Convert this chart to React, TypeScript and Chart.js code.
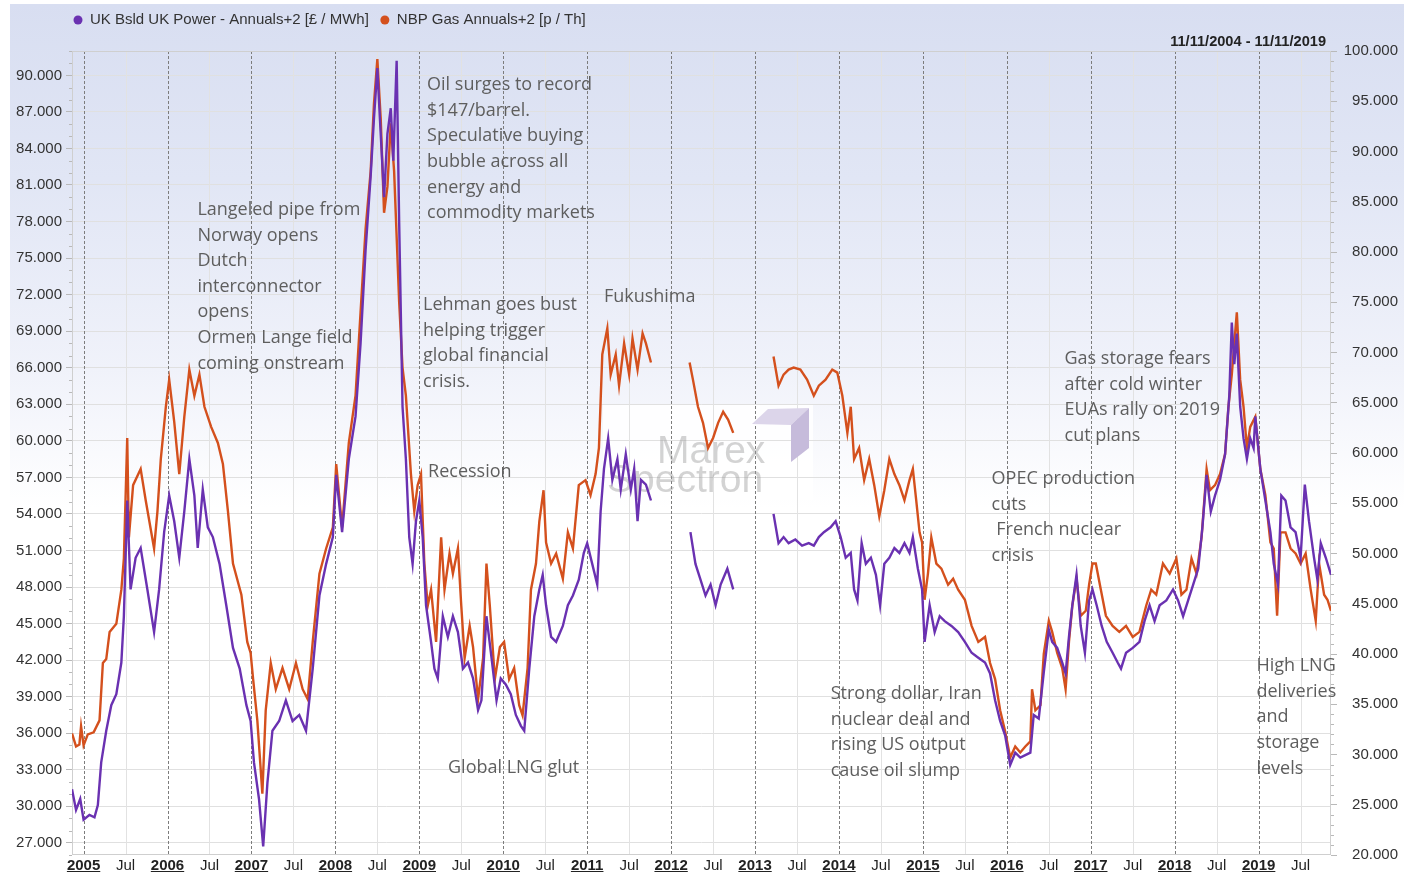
import React, { useEffect, useRef } from 'react';
import { Chart, registerables } from 'chart.js';

Chart.register(...registerables);

// ---------- DATA (decimal year, value) ----------
// UK Baseload Power Annuals+2 [£ / MWh] -> left axis
const powerSeries: [number, number | null][] = [
  [2004.862, 31.4], [2004.91, 29.7], [2004.96, 30.6], [2005.0, 28.9], [2005.07, 29.3], [2005.13, 29.1],
  [2005.17, 30.1], [2005.21, 33.6], [2005.27, 36.2], [2005.33, 38.3], [2005.39, 39.2], [2005.45, 41.8],
  [2005.48, 45.6], [2005.52, 55.1], [2005.56, 47.8], [2005.62, 50.4], [2005.68, 51.2], [2005.76, 47.8],
  [2005.84, 44.3], [2005.9, 47.8], [2005.96, 52.5], [2006.02, 55.5], [2006.08, 53.4], [2006.14, 50.4],
  [2006.2, 54.2], [2006.26, 58.5], [2006.32, 55.5], [2006.36, 51.2], [2006.42, 56.0], [2006.48, 52.9],
  [2006.54, 52.1], [2006.62, 49.9], [2006.7, 46.5], [2006.78, 43.0], [2006.86, 41.3], [2006.94, 38.3],
  [2006.99, 37.0], [2007.03, 33.6], [2007.09, 30.6], [2007.14, 26.7], [2007.19, 31.9], [2007.25, 36.2],
  [2007.33, 37.0], [2007.41, 38.7], [2007.49, 37.0], [2007.57, 37.5], [2007.65, 36.2], [2007.73, 41.3],
  [2007.81, 47.3], [2007.89, 49.9], [2007.97, 52.1], [2008.01, 57.2], [2008.08, 52.5], [2008.16, 58.5],
  [2008.24, 62.0], [2008.3, 68.0], [2008.36, 75.7], [2008.42, 81.7], [2008.46, 86.5], [2008.5, 90.6],
  [2008.53, 86.5], [2008.58, 80.0], [2008.62, 85.2], [2008.66, 87.3], [2008.69, 83.0], [2008.73, 91.2],
  [2008.76, 77.9], [2008.8, 62.8], [2008.84, 58.5], [2008.88, 52.1], [2008.92, 49.9], [2008.96, 53.4],
  [2009.0, 55.1], [2009.04, 52.1], [2009.08, 46.5], [2009.14, 43.5], [2009.18, 41.3], [2009.22, 40.5],
  [2009.28, 45.6], [2009.34, 43.9], [2009.4, 45.6], [2009.46, 44.3], [2009.52, 41.3], [2009.58, 41.8],
  [2009.64, 40.5], [2009.7, 37.9], [2009.74, 38.7], [2009.8, 45.6], [2009.86, 42.2], [2009.92, 38.7],
  [2009.97, 40.5], [2010.03, 40.0], [2010.09, 39.2], [2010.15, 37.5], [2010.21, 36.6], [2010.25, 36.2],
  [2010.31, 41.3], [2010.37, 45.6], [2010.43, 47.8], [2010.47, 49.0], [2010.51, 46.5], [2010.57, 43.9],
  [2010.63, 43.5], [2010.71, 44.8], [2010.77, 46.5], [2010.83, 47.3], [2010.9, 48.6], [2010.96, 50.8],
  [2011.0, 51.6], [2011.06, 49.9], [2011.12, 48.2], [2011.16, 54.2], [2011.2, 57.7], [2011.25, 60.2],
  [2011.3, 56.8], [2011.36, 58.5], [2011.4, 56.0], [2011.46, 58.9], [2011.52, 56.0], [2011.56, 57.7],
  [2011.6, 53.4], [2011.64, 56.8], [2011.7, 56.4], [2011.76, 55.1], [2012.0, null],
  [2012.23, 52.5], [2012.29, 49.9], [2012.35, 48.6], [2012.41, 47.3], [2012.47, 48.2], [2012.53, 46.5],
  [2012.59, 48.2], [2012.67, 49.5], [2012.74, 47.8], [2013.0, null],
  [2013.22, 54.0], [2013.28, 51.6], [2013.34, 52.1], [2013.4, 51.6], [2013.48, 51.9], [2013.56, 51.4],
  [2013.64, 51.6], [2013.7, 51.4], [2013.76, 52.1], [2013.82, 52.5], [2013.9, 52.9], [2013.96, 53.4],
  [2014.02, 52.1], [2014.08, 50.4], [2014.14, 50.8], [2014.18, 47.8], [2014.22, 46.9], [2014.27, 51.6],
  [2014.32, 49.9], [2014.38, 50.4], [2014.44, 49.0], [2014.49, 46.5], [2014.54, 49.9], [2014.6, 50.4],
  [2014.66, 51.2], [2014.72, 50.8], [2014.78, 51.6], [2014.84, 50.8], [2014.88, 52.1], [2014.94, 49.5],
  [2014.99, 47.8], [2015.02, 43.5], [2015.08, 46.5], [2015.14, 44.3], [2015.2, 45.6], [2015.26, 45.2],
  [2015.34, 44.8], [2015.42, 44.3], [2015.5, 43.5], [2015.58, 42.6], [2015.66, 42.2], [2015.74, 41.8],
  [2015.8, 40.9], [2015.86, 38.7], [2015.92, 37.0], [2015.98, 35.8], [2016.04, 33.4], [2016.1, 34.4],
  [2016.16, 34.0], [2016.22, 34.2], [2016.28, 34.4], [2016.32, 37.5], [2016.38, 37.2], [2016.44, 41.0],
  [2016.5, 44.5], [2016.54, 43.5], [2016.6, 43.0], [2016.66, 41.8], [2016.7, 40.9], [2016.74, 43.9],
  [2016.78, 46.5], [2016.83, 49.0], [2016.88, 44.8], [2016.93, 42.6], [2016.98, 46.9], [2017.02, 47.8],
  [2017.07, 46.5], [2017.13, 44.8], [2017.19, 43.5], [2017.26, 42.6], [2017.32, 41.8], [2017.36, 41.3],
  [2017.42, 42.6], [2017.5, 43.0], [2017.58, 43.5], [2017.64, 45.2], [2017.7, 46.5], [2017.76, 45.2],
  [2017.82, 46.5], [2017.9, 46.9], [2017.98, 47.8], [2018.04, 46.9], [2018.1, 45.6], [2018.16, 46.9],
  [2018.22, 48.2], [2018.28, 49.5], [2018.33, 52.9], [2018.38, 57.2], [2018.43, 54.2], [2018.48, 55.5],
  [2018.54, 56.8], [2018.6, 58.9], [2018.65, 63.7], [2018.68, 69.7], [2018.71, 66.3], [2018.74, 68.8],
  [2018.78, 62.8], [2018.82, 60.2], [2018.86, 58.5], [2018.9, 60.2], [2018.94, 59.4], [2018.96, 62.0],
  [2019.02, 57.7], [2019.08, 55.1], [2019.14, 52.5], [2019.18, 49.9], [2019.23, 48.2], [2019.27, 55.5],
  [2019.32, 55.1], [2019.38, 52.9], [2019.44, 52.5], [2019.5, 50.4], [2019.55, 56.4], [2019.6, 53.4],
  [2019.66, 50.4], [2019.7, 48.6], [2019.74, 51.6], [2019.8, 50.4], [2019.862, 49.0],
];

// NBP Gas Annuals+2 [p / Th] -> right axis
const gasSeries: [number, number | null][] = [
  [2004.862, 32.1], [2004.91, 30.8], [2004.95, 31.0], [2004.97, 32.8], [2005.0, 30.9], [2005.05, 32.0],
  [2005.12, 32.2], [2005.19, 33.4], [2005.23, 39.1], [2005.27, 39.5], [2005.31, 42.2], [2005.39, 43.0],
  [2005.45, 46.4], [2005.48, 49.5], [2005.52, 61.5], [2005.54, 51.6], [2005.59, 56.8], [2005.68, 58.4],
  [2005.74, 55.3], [2005.84, 50.5], [2005.88, 54.2], [2005.92, 59.4], [2005.98, 64.6], [2006.02, 67.3],
  [2006.08, 63.1], [2006.14, 57.9], [2006.2, 63.6], [2006.26, 68.3], [2006.32, 65.7], [2006.38, 67.8],
  [2006.44, 64.6], [2006.52, 62.6], [2006.6, 61.0], [2006.66, 58.9], [2006.72, 54.2], [2006.78, 49.0],
  [2006.88, 45.9], [2006.95, 41.2], [2006.99, 40.1], [2007.02, 37.5], [2007.07, 33.4], [2007.13, 26.1],
  [2007.17, 34.4], [2007.23, 39.1], [2007.29, 36.5], [2007.37, 38.6], [2007.45, 36.5], [2007.53, 39.1],
  [2007.61, 36.5], [2007.67, 35.5], [2007.73, 41.2], [2007.81, 48.0], [2007.89, 50.5], [2007.97, 52.6],
  [2008.01, 58.9], [2008.08, 52.6], [2008.16, 61.0], [2008.24, 65.7], [2008.3, 74.0], [2008.36, 82.3],
  [2008.42, 88.0], [2008.46, 94.8], [2008.5, 99.2], [2008.54, 93.3], [2008.58, 83.9], [2008.62, 86.5],
  [2008.66, 92.8], [2008.7, 88.0], [2008.76, 75.0], [2008.8, 68.5], [2008.84, 65.7], [2008.9, 57.9],
  [2008.94, 54.2], [2008.98, 56.8], [2009.02, 57.9], [2009.06, 49.0], [2009.1, 44.8], [2009.14, 46.4],
  [2009.2, 41.2], [2009.26, 51.6], [2009.3, 46.4], [2009.36, 50.0], [2009.4, 48.0], [2009.46, 50.5],
  [2009.5, 44.8], [2009.54, 39.6], [2009.6, 42.8], [2009.64, 40.7], [2009.7, 35.5], [2009.76, 39.6],
  [2009.8, 49.0], [2009.84, 44.8], [2009.9, 37.5], [2009.96, 40.7], [2010.01, 41.2], [2010.07, 37.5],
  [2010.13, 38.6], [2010.19, 34.9], [2010.23, 33.9], [2010.29, 38.6], [2010.33, 46.4], [2010.39, 49.0],
  [2010.43, 53.2], [2010.48, 56.3], [2010.51, 51.1], [2010.57, 49.0], [2010.63, 50.0], [2010.71, 47.5],
  [2010.77, 52.1], [2010.83, 50.5], [2010.9, 56.8], [2010.98, 57.3], [2011.04, 55.8], [2011.1, 57.9],
  [2011.14, 60.5], [2011.18, 69.8], [2011.24, 72.4], [2011.28, 67.8], [2011.34, 69.8], [2011.38, 66.7],
  [2011.44, 70.9], [2011.5, 67.8], [2011.54, 71.4], [2011.6, 68.3], [2011.66, 71.9], [2011.7, 70.9],
  [2011.76, 69.0], [2012.0, null],
  [2012.22, 69.0], [2012.26, 67.3], [2012.32, 64.6], [2012.38, 63.0], [2012.44, 60.5], [2012.5, 61.5],
  [2012.56, 63.0], [2012.62, 64.1], [2012.68, 63.3], [2012.74, 62.0], [2013.0, null],
  [2013.22, 69.6], [2013.28, 66.7], [2013.34, 67.8], [2013.4, 68.3], [2013.46, 68.5], [2013.54, 68.3],
  [2013.62, 67.3], [2013.7, 65.7], [2013.76, 66.7], [2013.84, 67.3], [2013.92, 68.3], [2013.98, 68.0],
  [2014.04, 65.7], [2014.1, 62.0], [2014.14, 64.6], [2014.18, 59.4], [2014.24, 60.5], [2014.3, 57.3],
  [2014.36, 59.4], [2014.42, 56.8], [2014.48, 53.7], [2014.54, 56.3], [2014.6, 59.4], [2014.66, 57.9],
  [2014.72, 56.8], [2014.78, 55.3], [2014.84, 57.3], [2014.88, 58.4], [2014.92, 55.3], [2014.96, 52.1],
  [2014.99, 51.1], [2015.02, 45.4], [2015.06, 48.0], [2015.1, 51.6], [2015.16, 49.0], [2015.22, 48.5],
  [2015.3, 46.9], [2015.36, 47.5], [2015.42, 46.4], [2015.5, 45.4], [2015.58, 42.8], [2015.66, 41.2],
  [2015.74, 41.7], [2015.8, 39.1], [2015.86, 37.5], [2015.92, 34.4], [2015.98, 32.3], [2016.04, 29.7],
  [2016.1, 30.8], [2016.16, 30.2], [2016.22, 30.8], [2016.28, 31.3], [2016.3, 36.5], [2016.34, 34.4],
  [2016.4, 34.9], [2016.44, 40.0], [2016.5, 43.3], [2016.54, 42.2], [2016.6, 40.1], [2016.66, 38.6],
  [2016.7, 36.5], [2016.74, 41.2], [2016.78, 44.8], [2016.83, 47.5], [2016.88, 43.8], [2016.94, 44.3],
  [2016.98, 46.9], [2017.02, 49.0], [2017.06, 49.0], [2017.12, 46.4], [2017.18, 43.8], [2017.26, 42.8],
  [2017.34, 42.2], [2017.42, 42.8], [2017.5, 41.7], [2017.58, 42.2], [2017.66, 44.8], [2017.72, 46.4],
  [2017.78, 45.9], [2017.86, 49.0], [2017.94, 48.0], [2018.02, 49.5], [2018.08, 45.9], [2018.14, 46.4],
  [2018.2, 49.5], [2018.26, 48.0], [2018.32, 51.6], [2018.38, 58.4], [2018.42, 56.3], [2018.48, 56.8],
  [2018.54, 57.9], [2018.6, 59.9], [2018.64, 64.6], [2018.68, 67.8], [2018.71, 70.9], [2018.74, 74.0],
  [2018.78, 67.3], [2018.82, 64.6], [2018.86, 60.5], [2018.9, 62.6], [2018.96, 63.6], [2019.02, 58.4],
  [2019.08, 55.8], [2019.14, 51.1], [2019.18, 50.5], [2019.22, 43.8], [2019.26, 52.1], [2019.32, 52.1],
  [2019.38, 50.5], [2019.44, 50.0], [2019.5, 49.0], [2019.56, 50.0], [2019.62, 46.4], [2019.68, 43.3],
  [2019.72, 49.0], [2019.78, 45.9], [2019.82, 45.4], [2019.862, 44.3],
];

const seriesLabels = ['UK Bsld UK Power - Annuals+2 [£ / MWh]', 'NBP Gas Annuals+2 [p / Th]'];
const seriesColors = ['#6a31b1', '#d4501d'];
const dateRangeLabel = '11/11/2004 - 11/11/2019';
const startDate = 2004.862;
const endDate = 2019.862;
const yearTicks = [2005, 2006, 2007, 2008, 2009, 2010, 2011, 2012, 2013, 2014, 2015, 2016, 2017, 2018, 2019];
const midYearLabel = 'Jul';
const powerTicks = [27, 30, 33, 36, 39, 42, 45, 48, 51, 54, 57, 60, 63, 66, 69, 72, 75, 78, 81, 84, 87, 90];
const gasTicks = [20, 25, 30, 35, 40, 45, 50, 55, 60, 65, 70, 75, 80, 85, 90, 95, 100];
const powerRange = [26, 92];
const gasRange = [20, 100];

// notes anchored at (date, power-axis value) of their first line
const notes: { date: number; value: number; lines: string[] }[] = [
  { date: 2006.356, value: 78.95, lines: ['Langeled pipe from', 'Norway opens', 'Dutch', 'interconnector', 'opens', 'Ormen Lange field', 'coming onstream'] },
  { date: 2009.092, value: 89.2, lines: ['Oil surges to record', '$147/barrel.', 'Speculative buying', 'bubble across all', 'energy and', 'commodity markets'] },
  { date: 2009.044, value: 71.15, lines: ['Lehman goes bust', 'helping trigger', 'global financial', 'crisis.'] },
  { date: 2009.104, value: 57.44, lines: ['Recession'] },
  { date: 2009.342, value: 33.13, lines: ['Global LNG glut'] },
  { date: 2011.199, value: 71.8, lines: ['Fukushima'] },
  { date: 2013.901, value: 39.21, lines: ['Strong dollar, Iran', 'nuclear deal and', 'rising US output', 'cause oil slump'] },
  { date: 2015.818, value: 56.86, lines: ['OPEC production', 'cuts', ' French nuclear', 'crisis'] },
  { date: 2016.687, value: 66.71, lines: ['Gas storage fears', 'after cold winter', 'EUAs rally on 2019', 'cut plans'] },
  { date: 2018.973, value: 41.51, lines: ['High LNG', 'deliveries', 'and', 'storage', 'levels'] },
];

const SANS = '"Liberation Sans", Arial, Helvetica, sans-serif';
const NOTE_FONT = '18px "Open Sans", "Noto Sans", sans-serif';

const decorPlugin = {
  id: 'decor',
  beforeDraw(chart: any) {
    const { ctx, width, height } = chart;
    ctx.save();
    ctx.fillStyle = '#ffffff';
    ctx.fillRect(0, 0, width, height);
    const g = ctx.createLinearGradient(0, 4, 0, height);
    g.addColorStop(0, '#d8def1');
    g.addColorStop(0.2, '#e1e6f5');
    g.addColorStop(0.42, '#f0f2fa');
    g.addColorStop(0.58, '#ffffff');
    g.addColorStop(1, '#ffffff');
    ctx.fillStyle = g;
    ctx.fillRect(10, 4, width - 10, height - 4);
    // watermark backdrop
    ctx.fillStyle = 'rgba(255,255,255,0.85)';
    ctx.fillRect(603, 405, 210, 95);
    ctx.restore();
  },
  beforeDatasetsDraw(chart: any) {
    const { ctx, chartArea } = chart;
    const xs = chart.scales.x;
    const ys = chart.scales.y;
    const y2 = chart.scales.y2;
    ctx.save();
    // vertical grid: Jul solid light, years dashed dark
    yearTicks.forEach((yr) => {
      const half = xs.getPixelForValue(yr + 0.5);
      if (half < chartArea.right) {
        ctx.strokeStyle = '#e2e2e2';
        ctx.lineWidth = 1;
        ctx.setLineDash([]);
        ctx.beginPath();
        ctx.moveTo(Math.round(half) + 0.5, chartArea.top);
        ctx.lineTo(Math.round(half) + 0.5, chartArea.bottom);
        ctx.stroke();
      }
    });
    yearTicks.forEach((yr) => {
      const px = xs.getPixelForValue(yr);
      ctx.strokeStyle = '#7c7c7c';
      ctx.lineWidth = 1;
      ctx.setLineDash([3, 2]);
      ctx.beginPath();
      ctx.moveTo(Math.round(px) + 0.5, chartArea.top);
      ctx.lineTo(Math.round(px) + 0.5, chartArea.bottom);
      ctx.stroke();
    });
    ctx.setLineDash([]);
    // border
    ctx.strokeStyle = '#cfcfcf';
    ctx.strokeRect(chartArea.left + 0.5, chartArea.top + 0.5, chartArea.width - 1, chartArea.height - 1);
    // minor ticks
    ctx.strokeStyle = '#b9b9b9';
    for (let v = Math.ceil(powerRange[0]); v <= powerRange[1]; v++) {
      if (v % 3 === 0) continue;
      const py = Math.round(ys.getPixelForValue(v)) + 0.5;
      ctx.beginPath();
      ctx.moveTo(chartArea.left - 3, py);
      ctx.lineTo(chartArea.left, py);
      ctx.stroke();
    }
    for (let v = gasRange[0]; v <= gasRange[1]; v++) {
      if (v % 5 === 0) continue;
      const py = Math.round(y2.getPixelForValue(v)) + 0.5;
      ctx.beginPath();
      ctx.moveTo(chartArea.right, py);
      ctx.lineTo(chartArea.right + 3, py);
      ctx.stroke();
    }
    // watermark
    ctx.fillStyle = '#dcd5ea';
    ctx.beginPath();
    ctx.moveTo(752, 424);
    ctx.lineTo(768, 409);
    ctx.lineTo(809, 408);
    ctx.lineTo(791, 425);
    ctx.closePath();
    ctx.fill();
    ctx.fillStyle = '#c6bbdb';
    ctx.beginPath();
    ctx.moveTo(791, 425);
    ctx.lineTo(809, 408);
    ctx.lineTo(809, 448);
    ctx.lineTo(791, 462);
    ctx.closePath();
    ctx.fill();
    ctx.fillStyle = 'rgba(150,150,150,0.42)';
    ctx.font = '39px ' + SANS;
    ctx.textAlign = 'left';
    ctx.textBaseline = 'alphabetic';
    ctx.fillText('Marex', 657, 463);
    ctx.fillText('Spectron', 607, 492);
    ctx.restore();
  },
  afterDraw(chart: any) {
    const { ctx, chartArea } = chart;
    const xs = chart.scales.x;
    const ys = chart.scales.y;
    ctx.save();
    // notes
    ctx.font = NOTE_FONT;
    ctx.fillStyle = '#5e5e5e';
    ctx.textAlign = 'left';
    ctx.textBaseline = 'middle';
    notes.forEach((n) => {
      const px = xs.getPixelForValue(n.date);
      const py = ys.getPixelForValue(n.value);
      n.lines.forEach((line, i) => ctx.fillText(line, px, py + i * 25.6));
    });
    // legend
    ctx.font = '15px ' + SANS;
    ctx.textBaseline = 'middle';
    let lx = 78;
    seriesLabels.forEach((lab, i) => {
      ctx.fillStyle = seriesColors[i];
      ctx.beginPath();
      ctx.arc(lx, 20, 4.5, 0, Math.PI * 2);
      ctx.fill();
      ctx.fillStyle = '#333333';
      ctx.fillText(lab, lx + 12, 20);
      lx += 12 + ctx.measureText(lab).width + 16;
    });
    // date range
    ctx.font = 'bold 14.6px ' + SANS;
    ctx.textAlign = 'right';
    ctx.fillStyle = '#222222';
    ctx.fillText(dateRangeLabel, chartArea.right - 5, 42);
    // underline year labels
    ctx.font = 'bold 15px ' + SANS;
    ctx.strokeStyle = '#222222';
    ctx.lineWidth = 1.2;
    yearTicks.forEach((yr) => {
      const px = xs.getPixelForValue(yr);
      const w = ctx.measureText(String(yr)).width;
      ctx.beginPath();
      ctx.moveTo(px - w / 2, 871.5);
      ctx.lineTo(px + w / 2, 871.5);
      ctx.stroke();
    });
    ctx.restore();
  },
};

export default function App() {
  const ref = useRef<HTMLCanvasElement>(null);
  useEffect(() => {
    const canvas = ref.current;
    if (!canvas) return;
    const chart = new Chart(canvas, {
      type: 'line',
      data: {
        datasets: [
          {
            label: seriesLabels[0],
            data: powerSeries.map(([x, y]) => ({ x, y })),
            yAxisID: 'y',
            borderColor: seriesColors[0],
            backgroundColor: seriesColors[0],
            borderWidth: 2.4,
            pointRadius: 0,
            tension: 0,
            spanGaps: false,
          },
          {
            label: seriesLabels[1],
            data: gasSeries.map(([x, y]) => ({ x, y })),
            yAxisID: 'y2',
            borderColor: seriesColors[1],
            backgroundColor: seriesColors[1],
            borderWidth: 2.4,
            pointRadius: 0,
            tension: 0,
            spanGaps: false,
          },
        ],
      } as any,
      options: {
        animation: false,
        responsive: true,
        maintainAspectRatio: false,
        devicePixelRatio: 1,
        events: [],
        layout: { padding: { top: 51, right: 6, bottom: 0, left: 0 } },
        plugins: { legend: { display: false }, tooltip: { enabled: false } },
        scales: {
          x: {
            type: 'linear',
            position: 'bottom',
            min: startDate,
            max: endDate,
            afterBuildTicks: (s: any) => {
              s.ticks = yearTicks.flatMap((yr) => [{ value: yr }, { value: yr + 0.5 }]);
            },
            afterFit: (s: any) => {
              s.height = 18;
            },
            grid: { display: false, drawTicks: false },
            border: { display: false },
            ticks: {
              autoSkip: false,
              maxRotation: 0,
              minRotation: 0,
              padding: 2,
              color: '#222222',
              callback: (v: any) => (Number.isInteger(v) ? String(v) : midYearLabel),
              font: (c: any) => ({
                family: SANS,
                size: 15,
                weight: c.tick && Number.isInteger(c.tick.value) ? 'bold' : 'normal',
              }),
            },
          },
          y: {
            type: 'linear',
            position: 'left',
            min: powerRange[0],
            max: powerRange[1],
            afterBuildTicks: (s: any) => {
              s.ticks = powerTicks.map((v) => ({ value: v }));
            },
            afterFit: (s: any) => {
              s.width = 72;
            },
            grid: { color: '#e0e0e0', tickColor: '#b9b9b9', tickLength: 6, drawTicks: true },
            border: { display: false },
            ticks: {
              padding: 4,
              color: '#333333',
              font: { family: SANS, size: 15 },
              callback: (v: any) => Number(v).toFixed(3),
            },
          },
          y2: {
            type: 'linear',
            position: 'right',
            min: gasRange[0],
            max: gasRange[1],
            afterBuildTicks: (s: any) => {
              s.ticks = gasTicks.map((v) => ({ value: v }));
            },
            afterFit: (s: any) => {
              s.width = 67;
            },
            grid: { drawOnChartArea: false, tickColor: '#b9b9b9', tickLength: 6 },
            border: { display: false },
            ticks: {
              crossAlign: 'far',
              padding: 4,
              color: '#333333',
              font: { family: SANS, size: 15 },
              callback: (v: any) => Number(v).toFixed(3),
            },
          },
        },
      } as any,
      plugins: [decorPlugin],
    });
    return () => chart.destroy();
  }, []);
  return (
    <div style={{ position: 'fixed', left: 0, top: 0, width: 1404, height: 873 }}>
      <canvas ref={ref} />
    </div>
  );
}
